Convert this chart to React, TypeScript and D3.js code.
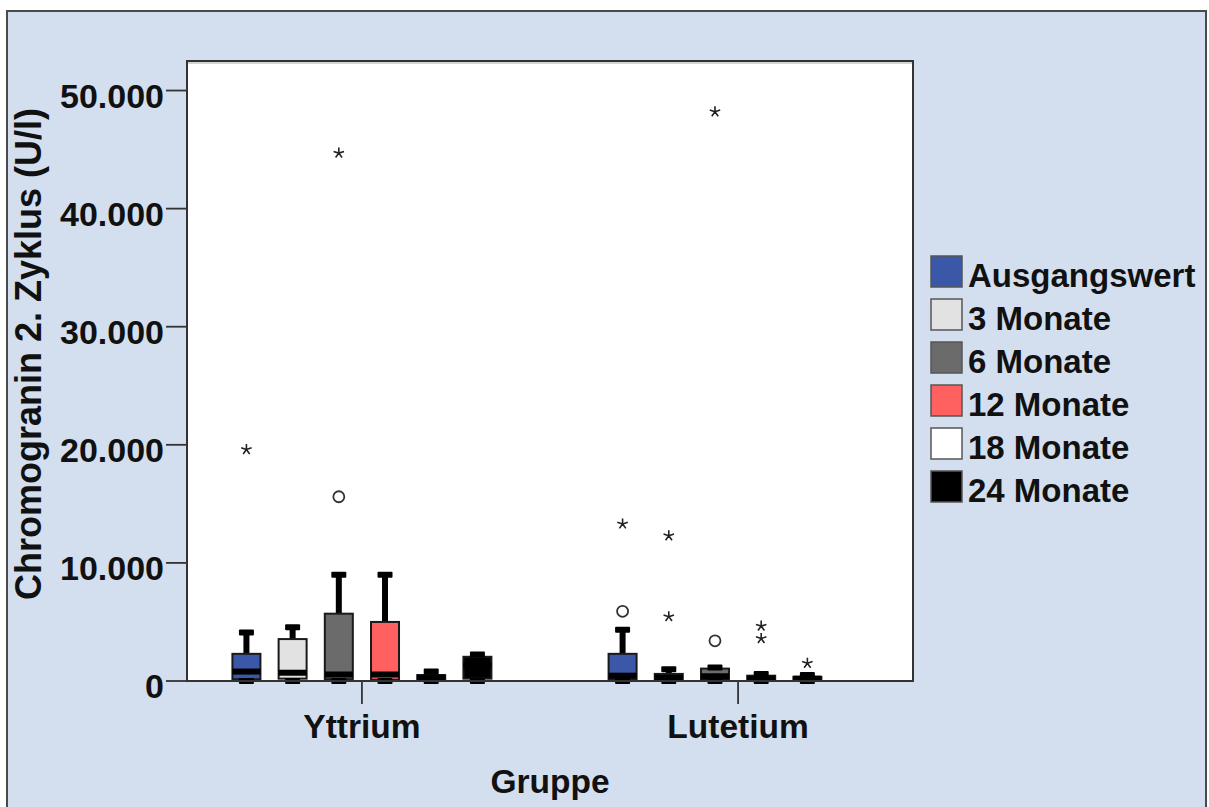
import React from "react";
import * as d3 from "d3";

const groups = ["Yttrium", "Lutetium"];
const series = ["Ausgangswert", "3 Monate", "6 Monate", "12 Monate", "18 Monate", "24 Monate"];
const seriesColors = ["#3B57A8", "#E2E2E2", "#6B6B6B", "#FF6060", "#FFFFFF", "#000000"];
const yTicks = [0, 10000, 20000, 30000, 40000, 50000];

// [series][group]; null = no box
const whiskerLow: (number | null)[][] = [[0, 0], [0, 0], [0, 0], [0, 0], [0, 0], [0, null]];
const q1Values: (number | null)[][] = [[150, 150], [200, 100], [150, 100], [100, 50], [100, 50], [200, null]];
const medianValues: (number | null)[][] = [[800, 450], [700, 300], [550, 400], [550, 200], [300, 200], [1300, null]];
const q3Values: (number | null)[][] = [[2300, 2300], [3550, 600], [5700, 1050], [5000, 450], [500, 350], [2050, null]];
const whiskerHigh: (number | null)[][] = [[4100, 4350], [4550, 1000], [9000, 1150], [9000, 600], [800, 500], [2250, null]];

const outlierGroup = ["Yttrium", "Yttrium", "Yttrium", "Lutetium", "Lutetium", "Lutetium", "Lutetium", "Lutetium", "Lutetium", "Lutetium", "Lutetium", "Lutetium"];
const outlierSeries = ["Ausgangswert", "6 Monate", "6 Monate", "Ausgangswert", "Ausgangswert", "3 Monate", "3 Monate", "6 Monate", "6 Monate", "12 Monate", "12 Monate", "18 Monate"];
const outlierValue = [19600, 15600, 44700, 5900, 13300, 12300, 5450, 3400, 48200, 4650, 3600, 1500];
const outlierKind = ["star", "circle", "star", "circle", "star", "star", "star", "circle", "star", "star", "star", "star"];

const fmt = d3.formatLocale({ decimal: ",", thousands: ".", grouping: [3], currency: ["", ""] }).format(",d");

const FONT = "'Liberation Sans', Arial, sans-serif";

function starPath(cx: number, cy: number, r: number) {
  let p = "";
  for (let k = 0; k < 5; k++) {
    const a = -Math.PI / 2 + (k * 2 * Math.PI) / 5;
    p += `M${cx},${cy}L${cx + r * Math.cos(a)},${cy + r * Math.sin(a)}`;
  }
  return p;
}

export default function App() {
  const W = 1209, H = 807;
  const plot = { l: 187, t: 61, r: 913, b: 681 };
  const y = d3.scaleLinear().domain([0, 52500]).range([plot.b, plot.t]);
  const x = d3.scalePoint<string>().domain(groups).range([plot.l, plot.r]).padding(0.465);
  const off = d3.scalePoint<string>().domain(series).range([-115.5, 115.5]);
  const boxW = 28, capW = 15, capH = 6, stemW = 6, medH = 6;

  const boxes: React.ReactNode[] = [];
  series.forEach((s, si) => {
    groups.forEach((g, gi) => {
      const q1 = q1Values[si][gi], med = medianValues[si][gi], q3 = q3Values[si][gi];
      const lo = whiskerLow[si][gi], hi = whiskerHigh[si][gi];
      if (q1 == null || med == null || q3 == null || lo == null || hi == null) return;
      const cx = (x(g) as number) + (off(s) as number);
      boxes.push(
        <g key={`${s}-${g}`}>
          <rect x={cx - stemW / 2} y={y(hi)} width={stemW} height={y(q3) - y(hi)} fill="#000" />
          <rect x={cx - stemW / 2} y={y(q1)} width={stemW} height={y(lo) - y(q1)} fill="#000" />
          <rect x={cx - boxW / 2} y={y(q3)} width={boxW} height={Math.max(1, y(q1) - y(q3))}
            fill={seriesColors[si]} stroke="#1a1a1a" strokeWidth={2} />
          <rect x={cx - boxW / 2} y={y(med) - medH / 2} width={boxW} height={medH} fill="#000" />
          <rect x={cx - capW / 2} y={y(hi) - capH / 2} width={capW} height={capH} fill="#000" rx={1} />
          <rect x={cx - capW / 2} y={y(lo) - capH / 2} width={capW} height={capH} fill="#000" rx={1} />
        </g>
      );
    });
  });

  const outliers = outlierValue.map((v, i) => {
    const cx = (x(outlierGroup[i]) as number) + (off(outlierSeries[i]) as number);
    const cy = y(v);
    return outlierKind[i] === "circle" ? (
      <circle key={`o${i}`} cx={cx} cy={cy} r={5.5} fill="none" stroke="#333" strokeWidth={1.8} />
    ) : (
      <path key={`o${i}`} d={starPath(cx, cy, 5.5)} stroke="#222" strokeWidth={1.6} fill="none" />
    );
  });

  return (
    <svg width={W} height={H} style={{ position: "absolute", left: 0, top: 0, background: "#fff" }}>
      <rect x={7} y={11} width={1199} height={810} fill="#D3DFEE" stroke="#4A4A4A" strokeWidth={2} />
      <rect x={plot.l} y={plot.t} width={plot.r - plot.l} height={plot.b - plot.t} fill="#fff" stroke="#333" strokeWidth={2} />
      <line x1={plot.l + 1} x2={plot.r - 1} y1={plot.t + 2} y2={plot.t + 2} stroke="#aaa" strokeWidth={1} />
      {yTicks.map((t) => (
        <g key={t}>
          <line x1={166} x2={plot.l} y1={y(t)} y2={y(t)} stroke="#333" strokeWidth={1.8} />
          <text x={164} y={y(t) + 17} textAnchor="end" fontFamily={FONT} fontWeight="bold" fontSize={34} fill="#111">
            {fmt(t)}
          </text>
        </g>
      ))}
      {groups.map((g) => (
        <g key={g}>
          <line x1={x(g)} x2={x(g)} y1={plot.b} y2={704} stroke="#333" strokeWidth={1.8} />
          <text x={x(g)} y={738} textAnchor="middle" fontFamily={FONT} fontWeight="bold" fontSize={33.5} fill="#111">
            {g}
          </text>
        </g>
      ))}
      <text x={(plot.l + plot.r) / 2} y={793} textAnchor="middle" fontFamily={FONT} fontWeight="bold" fontSize={33.5} fill="#111">
        Gruppe
      </text>
      <text transform={`translate(41,${354}) rotate(-90)`} textAnchor="middle" fontFamily={FONT}
        fontWeight="bold" fontSize={36} fill="#111">
        Chromogranin 2. Zyklus (U/l)
      </text>
      {boxes}
      {outliers}
      <line x1={plot.l} x2={plot.r} y1={plot.b} y2={plot.b} stroke="#333" strokeWidth={2} />
      {series.map((s, i) => (
        <g key={s} transform={`translate(931,${256 + i * 43})`}>
          <rect x={0} y={0} width={31} height={31} fill={seriesColors[i]} stroke="#555" strokeWidth={1.5} />
          <text x={37} y={31} fontFamily={FONT} fontWeight="bold" fontSize={33} fill="#111">
            {s}
          </text>
        </g>
      ))}
    </svg>
  );
}
